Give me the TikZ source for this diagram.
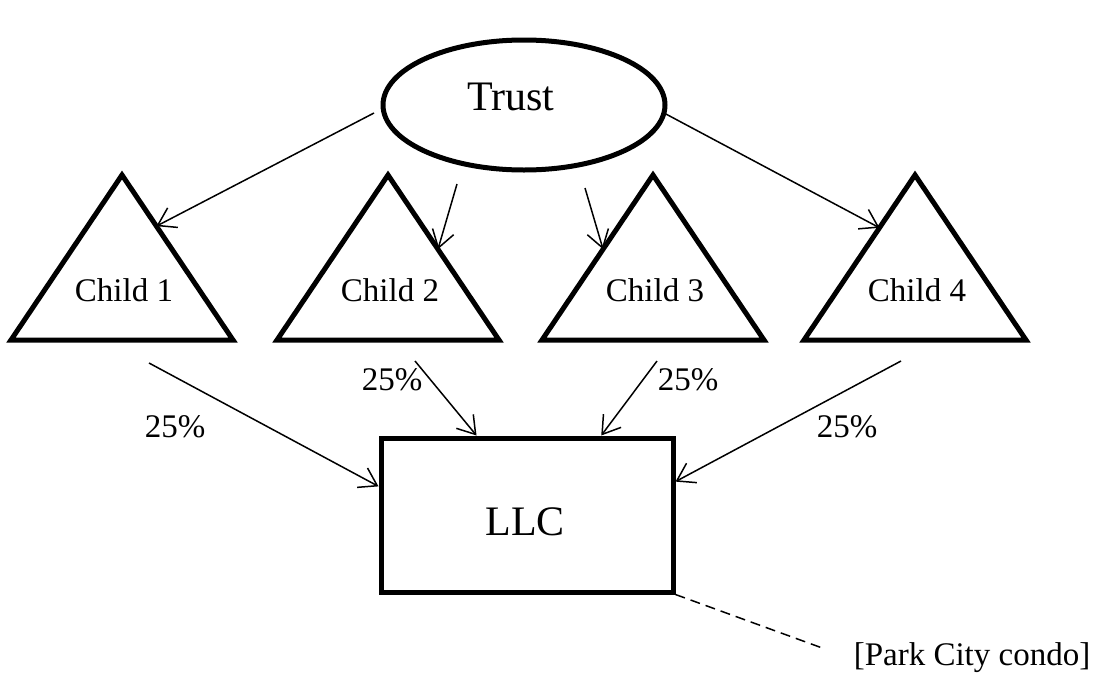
\documentclass[tikz,border=0pt]{standalone}
\usepackage{fontspec}
\setmainfont{Liberation Serif}
\usetikzlibrary{arrows.meta,calc,shapes.geometric}

\tikzset{
  shapeline/.style={line width=5pt, line join=miter},
  arr/.style={line width=1.5pt, -{Straight Barb[length=17pt,width=22pt,line width=1.5pt]}},
  bigtext/.style={font=\fontsize{42}{50}\selectfont},
  smalltext/.style={font=\fontsize{33}{40}\selectfont},
}

\begin{document}
\begin{tikzpicture}[x=1pt,y=-1pt]
    \useasboundingbox (0,0) rectangle (1101,683);
    \node[shapeline, draw, ellipse, minimum width=282pt, minimum height=130pt, inner sep=0pt] (trust) at (524,105) {}; % Trust ellipse
    \node[bigtext] (trustlbl) at (511,97) {Trust};
    \node[shapeline, draw, rectangle, minimum width=292pt, minimum height=154pt, inner sep=0pt] (llc) at (527,515) {}; % LLC box
    \node[bigtext] (llclbl) at (525,522) {LLC};
    % the four children
    \foreach \i/\x in {1/122,2/388,3/653,4/915} {
        \coordinate (apex\i) at (\x,175);
        \coordinate (bl\i) at (\x-111,340);
        \coordinate (br\i) at (\x+111,340);
        \draw[shapeline] (apex\i) -- (br\i) -- (bl\i) -- cycle;
        \node[smalltext] (child\i) at (\x+2,290) {Child \i};
    }
    % trust to children
    \coordinate (t1) at (374,113);
    \coordinate (t2) at (457,184);
    \coordinate (t3) at (585,188);
    \coordinate (t4) at (664,113);
    \draw[arr] (t1) -- ($(apex1)!0.31!(br1)$);
    \draw[arr] (t2) -- ($(apex2)!0.45!(br2)$);
    \draw[arr] (t3) -- ($(apex3)!0.45!(bl3)$);
    \draw[arr] (t4) -- ($(apex4)!0.32!(bl4)$);
    % children to LLC
    \coordinate (s1) at (149,363);
    \coordinate (s2) at (415,361);
    \coordinate (s3) at (657,361);
    \coordinate (s4) at (901,361);
    \draw[arr] (s1) -- ($(llc.north west)!0.32!(llc.south west)$);
    \draw[arr] (s2) -- ($(llc.north west)!0.33!(llc.north east)$);
    \draw[arr] (s3) -- ($(llc.north west)!0.75!(llc.north east)$);
    \draw[arr] (s4) -- ($(llc.north east)!0.29!(llc.south east)$);
    \node[smalltext] (p1) at (175,427) {25\%};
    \node[smalltext] (p2) at (392,380) {25\%};
    \node[smalltext] (p3) at (688,380) {25\%};
    \node[smalltext] (p4) at (847,427) {25\%};
    % property
    \node[smalltext] (condo) at (972,658) {[Park City condo]};
    \coordinate (d) at (825,649);
    \draw[line width=1.5pt, dash pattern=on 10pt off 6pt] (llc.south east) -- (d);
\end{tikzpicture}
\end{document}
